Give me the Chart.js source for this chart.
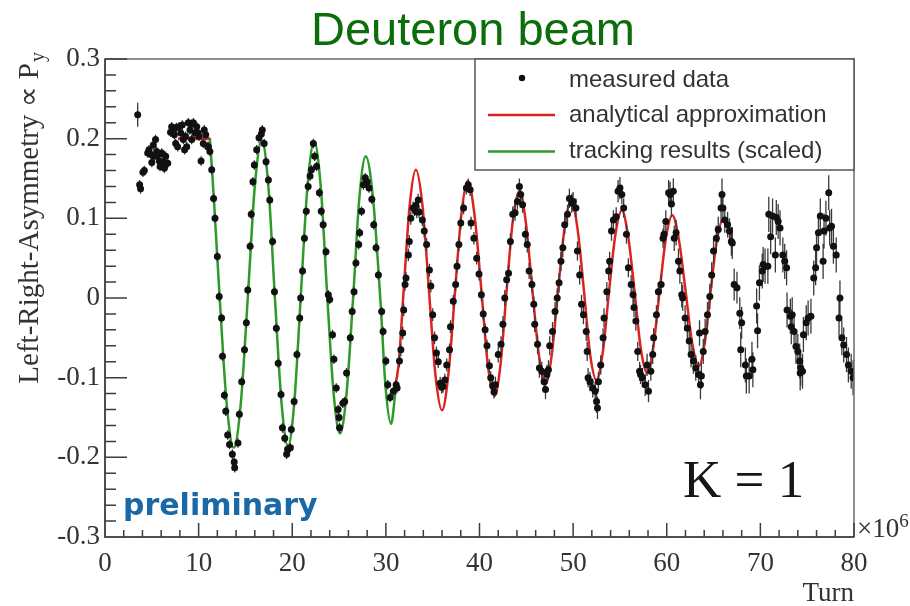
<!DOCTYPE html>
<html>
<head>
<meta charset="utf-8">
<title>Deuteron beam</title>
<script src="https://cdn.jsdelivr.net/npm/chart.js@4.4.1/dist/chart.umd.min.js"></script>
<style>
  html, body { margin: 0; padding: 0; background: #fff; }
  canvas { display: block; }
</style>
</head>
<body>
<canvas id="chart" width="910" height="606"></canvas>
<script>
// measured points: [turn (x1e6), left-right asymmetry, error]
const measured = [
  [3.49, 0.230, 0.015],
  [3.70, 0.142, 0.006], [3.80, 0.137, 0.006], [4.05, 0.158, 0.006], [4.20, 0.160, 0.006],
  [4.56, 0.182, 0.006], [4.70, 0.186, 0.006], [4.90, 0.180, 0.006], [5.00, 0.170, 0.006],
  [5.16, 0.192, 0.006], [5.27, 0.178, 0.006], [5.40, 0.199, 0.006], [5.52, 0.184, 0.006],
  [5.70, 0.180, 0.006], [5.80, 0.172, 0.006], [5.88, 0.165, 0.006], [6.05, 0.182, 0.006],
  [6.23, 0.171, 0.006], [6.34, 0.163, 0.006], [6.48, 0.178, 0.006], [6.70, 0.169, 0.006],
  [7.00, 0.208, 0.006], [7.12, 0.215, 0.006], [7.30, 0.212, 0.006], [7.41, 0.205, 0.006],
  [7.55, 0.194, 0.006], [7.62, 0.214, 0.006], [7.76, 0.190, 0.006], [7.90, 0.215, 0.006],
  [8.10, 0.207, 0.006], [8.25, 0.217, 0.006], [8.37, 0.199, 0.006], [8.50, 0.186, 0.006],
  [8.60, 0.203, 0.006], [8.73, 0.190, 0.006], [8.90, 0.220, 0.006], [9.08, 0.211, 0.006],
  [9.20, 0.218, 0.006], [9.26, 0.199, 0.006], [9.44, 0.220, 0.006], [9.60, 0.207, 0.006],
  [9.80, 0.215, 0.006], [9.95, 0.207, 0.006], [10.04, 0.203, 0.006], [10.26, 0.172, 0.006],
  [10.50, 0.194, 0.006], [10.60, 0.211, 0.006], [10.76, 0.205, 0.006], [10.97, 0.190, 0.006],
  [11.04, 0.190, 0.006], [11.20, 0.184, 0.006], [11.40, 0.161, 0.006], [11.60, 0.125, 0.006],
  [11.75, 0.100, 0.006], [12.00, 0.052, 0.006], [12.20, 0.002, 0.006], [12.45, -0.025, 0.006],
  [12.55, -0.073, 0.006], [12.75, -0.122, 0.006], [12.90, -0.142, 0.006], [13.10, -0.172, 0.006],
  [13.30, -0.184, 0.006], [13.60, -0.196, 0.006], [13.80, -0.206, 0.006], [13.85, -0.213, 0.006],
  [14.20, -0.182, 0.006], [14.35, -0.146, 0.006], [14.60, -0.105, 0.006], [14.90, -0.065, 0.006],
  [15.10, -0.031, 0.006], [15.25, 0.010, 0.006], [15.50, 0.065, 0.006], [15.62, 0.105, 0.006],
  [15.80, 0.146, 0.006], [15.95, 0.167, 0.006], [16.20, 0.186, 0.006], [16.45, 0.201, 0.006],
  [16.70, 0.206, 0.006], [16.80, 0.211, 0.006], [17.00, 0.194, 0.006], [17.20, 0.171, 0.006],
  [17.45, 0.148, 0.006], [17.60, 0.123, 0.006], [17.90, 0.071, 0.006], [18.10, 0.008, 0.006],
  [18.30, -0.038, 0.006], [18.50, -0.082, 0.006], [18.80, -0.121, 0.006], [18.95, -0.163, 0.006],
  [19.20, -0.176, 0.006], [19.40, -0.196, 0.006], [19.50, -0.190, 0.006], [19.80, -0.188, 0.006],
  [19.90, -0.165, 0.006], [20.20, -0.130, 0.006], [20.50, -0.071, 0.006], [20.80, -0.025, 0.006],
  [20.90, 0.000, 0.006], [21.10, 0.034, 0.006], [21.30, 0.075, 0.006], [21.50, 0.109, 0.006],
  [21.70, 0.140, 0.006], [21.90, 0.153, 0.006], [22.05, 0.161, 0.006], [22.25, 0.194, 0.006],
  [22.40, 0.178, 0.006], [22.60, 0.165, 0.006], [22.90, 0.132, 0.006], [23.10, 0.109, 0.006],
  [23.30, 0.092, 0.006], [23.60, 0.058, 0.006], [23.85, 0.004, 0.006], [24.00, -0.002, 0.006],
  [24.30, -0.046, 0.006], [24.45, -0.077, 0.006], [24.70, -0.113, 0.006], [24.90, -0.140, 0.006],
  [25.00, -0.150, 0.006], [25.05, -0.163, 0.006], [25.40, -0.132, 0.006], [25.60, -0.130, 0.006],
  [25.80, -0.094, 0.006], [26.20, -0.050, 0.006], [26.40, -0.017, 0.006], [26.60, 0.008, 0.006],
  [26.80, 0.044, 0.006], [27.10, 0.067, 0.006], [27.20, 0.082, 0.006], [27.40, 0.109, 0.006],
  [27.60, 0.142, 0.006], [27.80, 0.151, 0.006], [28.00, 0.146, 0.006], [28.20, 0.138, 0.006],
  [28.50, 0.124, 0.006], [28.70, 0.092, 0.006], [28.95, 0.063, 0.006], [29.20, 0.029, 0.006],
  [29.55, -0.017, 0.006], [29.70, -0.042, 0.006], [30.00, -0.079, 0.006], [30.20, -0.109, 0.006],
  [30.45, -0.125, 0.006], [30.80, -0.117, 0.006], [31.10, -0.109, 0.006], [31.20, -0.113, 0.006],
  [31.45, -0.079, 0.008], [31.60, -0.065, 0.008], [31.80, -0.044, 0.008], [31.90, -0.015, 0.008],
  [32.05, 0.017, 0.008], [32.15, 0.025, 0.008], [32.40, 0.054, 0.008], [32.50, 0.071, 0.008],
  [32.66, 0.100, 0.008], [32.90, 0.113, 0.008], [33.05, 0.111, 0.008], [33.20, 0.116, 0.008],
  [33.30, 0.108, 0.008], [33.45, 0.123, 0.008], [33.55, 0.108, 0.008], [33.90, 0.098, 0.008],
  [34.10, 0.084, 0.008], [34.35, 0.067, 0.008], [34.65, 0.035, 0.008], [34.80, 0.015, 0.008],
  [35.00, -0.021, 0.008], [35.20, -0.050, 0.008], [35.40, -0.069, 0.008], [35.60, -0.080, 0.008],
  [35.80, -0.107, 0.008], [35.95, -0.112, 0.008], [36.10, -0.111, 0.008], [36.30, -0.103, 0.008],
  [36.50, -0.084, 0.008], [36.80, -0.065, 0.008], [36.90, -0.036, 0.008], [37.20, -0.004, 0.008],
  [37.45, 0.017, 0.008], [37.60, 0.040, 0.008], [37.80, 0.067, 0.008], [38.00, 0.094, 0.008],
  [38.30, 0.113, 0.008], [38.60, 0.138, 0.008], [38.80, 0.142, 0.008], [39.00, 0.136, 0.008],
  [39.10, 0.094, 0.008], [39.40, 0.075, 0.008], [39.70, 0.050, 0.008], [39.95, 0.030, 0.008],
  [40.20, 0.004, 0.008], [40.40, -0.020, 0.008], [40.60, -0.040, 0.008], [40.80, -0.060, 0.008],
  [41.06, -0.085, 0.008], [41.20, -0.100, 0.008], [41.40, -0.110, 0.008], [41.55, -0.118, 0.008],
  [41.70, -0.109, 0.010], [42.00, -0.071, 0.010], [42.30, -0.058, 0.010], [42.50, -0.033, 0.010],
  [42.70, 0.000, 0.010], [42.90, 0.023, 0.010], [43.10, 0.031, 0.010], [43.30, 0.071, 0.010],
  [43.55, 0.105, 0.010], [43.80, 0.107, 0.010], [44.05, 0.121, 0.010], [44.26, 0.140, 0.010],
  [44.40, 0.130, 0.010], [44.60, 0.117, 0.010], [44.90, 0.080, 0.010], [45.10, 0.067, 0.010],
  [45.30, 0.034, 0.010], [45.60, 0.017, 0.010], [45.80, -0.008, 0.010], [45.90, -0.033, 0.010],
  [46.20, -0.058, 0.012], [46.40, -0.088, 0.012], [46.65, -0.092, 0.012], [46.90, -0.105, 0.012],
  [47.05, -0.115, 0.012], [47.20, -0.096, 0.012], [47.36, -0.090, 0.012], [47.50, -0.060, 0.012],
  [47.80, -0.042, 0.012], [48.07, -0.017, 0.012], [48.30, 0.000, 0.012], [48.50, 0.019, 0.012],
  [48.70, 0.046, 0.012], [48.90, 0.063, 0.012], [49.10, 0.092, 0.012], [49.40, 0.105, 0.012],
  [49.60, 0.125, 0.012], [49.85, 0.119, 0.012], [50.00, 0.121, 0.012], [50.30, 0.113, 0.012],
  [50.46, 0.059, 0.012], [50.70, 0.029, 0.012], [50.90, -0.008, 0.012], [51.10, -0.021, 0.012],
  [51.40, -0.042, 0.012], [51.50, -0.067, 0.012], [51.60, -0.100, 0.012], [51.80, -0.105, 0.012],
  [52.10, -0.113, 0.012], [52.35, -0.117, 0.012], [52.50, -0.130, 0.014], [52.60, -0.138, 0.014],
  [52.70, -0.105, 0.012], [52.95, -0.084, 0.012], [53.20, -0.050, 0.012], [53.30, -0.025, 0.012],
  [53.60, 0.008, 0.012], [53.80, 0.034, 0.012], [53.90, 0.046, 0.012], [54.10, 0.084, 0.012],
  [54.30, 0.098, 0.012], [54.60, 0.102, 0.012], [54.80, 0.134, 0.014], [55.00, 0.138, 0.014],
  [55.20, 0.130, 0.012], [55.40, 0.113, 0.012], [55.70, 0.080, 0.012], [55.90, 0.038, 0.012],
  [56.20, 0.017, 0.012], [56.40, 0.004, 0.012], [56.50, -0.012, 0.012], [56.70, -0.029, 0.012],
  [56.90, -0.067, 0.012], [57.10, -0.092, 0.012], [57.20, -0.096, 0.012], [57.40, -0.100, 0.012],
  [57.70, -0.109, 0.014], [57.90, -0.084, 0.014], [58.05, -0.117, 0.014], [58.30, -0.092, 0.012],
  [58.50, -0.071, 0.012], [58.60, -0.050, 0.012], [58.90, -0.021, 0.012], [59.10, 0.008, 0.012],
  [59.40, 0.017, 0.012], [59.60, 0.075, 0.012], [59.70, 0.080, 0.012], [59.90, 0.096, 0.014],
  [60.20, 0.132, 0.016], [60.36, 0.130, 0.016], [60.50, 0.118, 0.016], [60.70, 0.134, 0.016],
  [60.80, 0.075, 0.016], [61.00, 0.082, 0.016], [61.25, 0.046, 0.016], [61.40, 0.034, 0.016],
  [61.60, 0.004, 0.016], [61.70, 0.000, 0.016], [61.96, -0.025, 0.016], [62.20, -0.038, 0.016],
  [62.40, -0.054, 0.016], [62.60, -0.071, 0.016], [62.85, -0.079, 0.016], [63.10, -0.088, 0.016],
  [63.40, -0.096, 0.016], [63.50, -0.044, 0.016], [63.60, -0.109, 0.018], [63.70, -0.098, 0.016],
  [63.90, -0.067, 0.016], [64.10, -0.042, 0.016], [64.35, -0.021, 0.016], [64.60, 0.002, 0.016],
  [64.80, 0.029, 0.016], [65.00, 0.059, 0.016], [65.30, 0.075, 0.016], [65.50, 0.086, 0.016],
  [65.80, 0.113, 0.018], [65.90, 0.130, 0.020], [66.00, 0.113, 0.016], [66.20, 0.098, 0.016],
  [66.50, 0.092, 0.016], [66.70, 0.084, 0.016], [66.90, 0.071, 0.018],
  [67.00, 0.069, 0.020], [67.20, 0.017, 0.020], [67.50, 0.013, 0.020], [67.80, -0.019, 0.020],
  [67.90, -0.065, 0.022], [68.00, -0.031, 0.020], [68.40, -0.084, 0.022], [68.50, -0.098, 0.022],
  [68.80, -0.098, 0.022], [69.10, -0.077, 0.022], [69.20, -0.090, 0.022], [69.60, -0.010, 0.022],
  [69.70, -0.041, 0.022], [69.90, 0.019, 0.022], [70.20, 0.034, 0.022], [70.30, 0.042, 0.022],
  [70.50, 0.040, 0.022], [70.80, 0.040, 0.022], [70.90, 0.105, 0.022], [71.10, 0.077, 0.022],
  [71.30, 0.103, 0.022], [71.60, 0.054, 0.022], [71.70, 0.101, 0.022], [71.90, 0.096, 0.022],
  [72.10, 0.088, 0.022], [72.40, 0.054, 0.022], [72.60, 0.046, 0.022], [72.80, 0.038, 0.022],
  [72.85, -0.015, 0.022], [73.20, -0.023, 0.022], [73.30, -0.036, 0.022], [73.40, -0.021, 0.022],
  [73.60, -0.042, 0.022], [73.80, -0.061, 0.022], [74.00, -0.067, 0.022], [74.20, -0.079, 0.022],
  [74.25, -0.094, 0.022], [74.30, -0.088, 0.022], [74.50, -0.092, 0.022], [74.60, -0.046, 0.022],
  [74.90, -0.031, 0.022], [75.10, -0.025, 0.022], [75.40, -0.023, 0.022], [75.70, 0.025, 0.022],
  [75.90, 0.038, 0.022], [76.00, 0.063, 0.022], [76.20, 0.082, 0.022], [76.40, 0.103, 0.022],
  [76.70, 0.046, 0.022], [76.80, 0.084, 0.022], [77.00, 0.100, 0.022], [77.30, 0.132, 0.022],
  [77.40, 0.088, 0.022], [77.60, 0.090, 0.022], [77.80, 0.065, 0.022], [78.10, 0.054, 0.022],
  [78.40, -0.025, 0.022], [78.50, 0.000, 0.022], [78.70, -0.050, 0.022], [78.90, -0.059, 0.022],
  [79.20, -0.071, 0.022], [79.40, -0.084, 0.022], [79.70, -0.092, 0.022], [79.90, -0.100, 0.022]
];

// analytical approximation (red): flat start piece and the oscillation
const analyticalFlat = [[7.8, 0.2], [11.2, 0.2]];
const analytical = [
  [30.8, -0.119], [31.35, -0.085], [31.9, 0.01], [32.55, 0.117], [33.2, 0.161],
  [33.9, 0.117], [34.6, 0.01], [35.3, -0.097], [36.0, -0.141], [36.7, -0.093],
  [37.4, 0.01], [38.07, 0.106], [38.75, 0.147], [39.47, 0.104], [40.2, 0.01],
  [40.9, -0.085], [41.6, -0.123], [42.25, -0.083], [42.9, 0.01], [43.57, 0.098],
  [44.25, 0.134], [44.95, 0.095], [45.65, 0.01], [46.35, -0.072], [47.05, -0.108],
  [47.72, -0.071], [48.4, 0.01], [49.1, 0.089], [49.8, 0.122], [50.47, 0.087],
  [51.15, 0.01], [51.82, -0.071], [52.5, -0.103], [53.17, -0.068], [53.85, 0.01],
  [54.52, 0.08], [55.2, 0.11], [55.87, 0.078], [56.55, 0.01], [57.22, -0.063],
  [57.9, -0.094], [58.57, -0.061], [59.25, 0.01], [59.92, 0.076], [60.6, 0.104],
  [61.3, 0.073], [62.0, 0.01], [62.72, -0.057], [63.45, -0.085], [64.07, -0.055],
  [64.7, 0.01], [65.35, 0.072], [66.0, 0.098], [66.45, 0.09], [66.95, 0.074]
];

// tracking results, scaled (green)
const tracking = [
  [11.2, 0.201], [11.6, 0.13], [12.25, 0.0], [13.0, -0.133], [13.75, -0.188],
  [14.5, -0.133], [15.25, 0.0], [16.0, 0.14], [16.75, 0.198], [17.45, 0.14],
  [18.15, 0.0], [18.85, -0.131], [19.55, -0.186], [20.22, -0.131], [20.9, 0.0],
  [21.62, 0.139], [22.35, 0.196], [23.05, 0.139], [23.75, 0.0], [24.42, -0.12],
  [25.1, -0.170], [25.8, -0.12], [26.5, 0.0], [27.17, 0.126], [27.85, 0.178],
  [28.62, 0.126], [29.4, 0.0], [29.97, -0.112], [30.55, -0.158], [31.05, -0.115]
];

const xRange = [0, 80], xStep = 10, xMinor = 2;
const yRange = [-0.3, 0.3], yStep = 0.1, yMinor = 0.02;
const legendLabels = ['measured data', 'analytical approximation', 'tracking results (scaled)'];

const RED = '#da2420';
const GREEN = '#2e9a2a';
const SERIF = "'Liberation Serif', 'Times New Roman', serif";
const SANS = "'Liberation Sans', Arial, sans-serif";

const toXY = p => ({ x: p[0], y: p[1] });

// vertical error bars for the measured points, under the dots
const errorBars = {
  id: 'errorBars',
  beforeDatasetDraw(chart, args) {
    if (args.index !== 0) return;
    const { ctx, chartArea: a, scales: { x, y } } = chart;
    ctx.save();
    ctx.beginPath();
    ctx.rect(a.left, a.top, a.width, a.height);
    ctx.clip();
    ctx.strokeStyle = '#3a3a3a';
    ctx.lineWidth = 1.3;
    ctx.beginPath();
    measured.forEach(([mx, my, err]) => {
      const px = x.getPixelForValue(mx);
      ctx.moveTo(px, y.getPixelForValue(my - err));
      ctx.lineTo(px, y.getPixelForValue(my + err));
    });
    ctx.stroke();
    ctx.restore();
  }
};

// ROOT style frame with inward ticks
const frame = {
  id: 'frame',
  afterDatasetsDraw(chart) {
    const { ctx, chartArea: a, scales: { x, y } } = chart;
    ctx.save();
    ctx.strokeStyle = '#6a6a6a';
    ctx.lineWidth = 1.5;
    ctx.strokeRect(a.left, a.top, a.width, a.height);
    ctx.strokeStyle = '#3c3c3c';
    ctx.beginPath();
    ctx.moveTo(a.left, a.top); ctx.lineTo(a.left, a.bottom); ctx.lineTo(a.right, a.bottom);
    const nx = Math.round((xRange[1] - xRange[0]) / xMinor);
    for (let i = 0; i <= nx; i++) {
      const v = xRange[0] + i * xMinor;
      const px = x.getPixelForValue(v);
      const major = Math.abs(v / xStep - Math.round(v / xStep)) < 1e-6;
      ctx.moveTo(px, a.bottom);
      ctx.lineTo(px, a.bottom - (major ? 14 : 7));
    }
    const ny = Math.round((yRange[1] - yRange[0]) / yMinor);
    for (let i = 0; i <= ny; i++) {
      const v = yRange[0] + i * yMinor;
      const py = y.getPixelForValue(v);
      const major = Math.abs(v / yStep - Math.round(v / yStep)) < 1e-6;
      ctx.moveTo(a.left, py);
      ctx.lineTo(a.left + (major ? 22 : 11), py);
    }
    ctx.stroke();
    ctx.restore();
  }
};

// title, legend box, axis titles and labels
const annotations = {
  id: 'annotations',
  afterDraw(chart) {
    const { ctx, chartArea: a } = chart;
    const ds = chart.data.datasets;
    ctx.save();

    ctx.fillStyle = '#0b6e0b';
    ctx.font = '47px ' + SANS;
    ctx.textAlign = 'center';
    ctx.textBaseline = 'alphabetic';
    ctx.fillText('Deuteron beam', 473, 45);

    // legend
    const lx = 475, ly = a.top, lw = a.right - 475, lh = 111;
    ctx.fillStyle = '#fff';
    ctx.fillRect(lx, ly, lw, lh);
    ctx.strokeStyle = '#555';
    ctx.lineWidth = 1.5;
    ctx.strokeRect(lx, ly, lw, lh);
    ctx.fillStyle = ds[0].backgroundColor;
    ctx.beginPath();
    ctx.arc(522, 78, 3.2, 0, Math.PI * 2);
    ctx.fill();
    ctx.lineWidth = 2.5;
    ctx.strokeStyle = ds[2].borderColor;
    ctx.beginPath(); ctx.moveTo(488, 115); ctx.lineTo(555, 115); ctx.stroke();
    ctx.strokeStyle = ds[3].borderColor;
    ctx.beginPath(); ctx.moveTo(488, 151.5); ctx.lineTo(555, 151.5); ctx.stroke();
    ctx.fillStyle = '#333';
    ctx.font = '24px ' + SANS;
    ctx.textAlign = 'left';
    ctx.fillText(legendLabels[0], 569, 87);
    ctx.fillText(legendLabels[1], 569, 122);
    ctx.fillText(legendLabels[2], 569, 158);

    // y axis title, rotated, with subscript
    ctx.fillStyle = '#333';
    ctx.font = '29px ' + SERIF;
    const main = 'Left-Right-Asymmetry \u221D P';
    const wMain = ctx.measureText(main).width;
    ctx.font = '20px ' + SERIF;
    const wSub = ctx.measureText('y').width;
    ctx.translate(38, 53 + wMain + wSub);
    ctx.rotate(-Math.PI / 2);
    ctx.font = '29px ' + SERIF;
    ctx.fillText(main, 0, 0);
    ctx.font = '20px ' + SERIF;
    ctx.fillText('y', wMain + 1, 6);
    ctx.setTransform(1, 0, 0, 1, 0, 0);

    // x axis title and exponent
    ctx.font = '27px ' + SERIF;
    ctx.textAlign = 'right';
    ctx.fillText('Turn', a.right, 601);
    ctx.textAlign = 'left';
    ctx.fillText('\u00D710', a.right + 3, 537);
    const w10 = ctx.measureText('\u00D710').width;
    ctx.font = '19px ' + SERIF;
    ctx.fillText('6', a.right + 3 + w10, 527);

    ctx.fillStyle = '#1a68a6';
    ctx.font = 'bold 30px "DejaVu Sans", sans-serif';
    ctx.fillText('preliminary', 123, 515);

    ctx.fillStyle = '#161616';
    ctx.font = '53px ' + SERIF;
    ctx.fillText('K = 1', 683, 497);
    ctx.restore();
  }
};

new Chart(document.getElementById('chart'), {
  type: 'scatter',
  data: {
    datasets: [
      {
        label: legendLabels[0],
        data: measured.map(toXY),
        backgroundColor: '#111',
        borderWidth: 0,
        pointRadius: 3.5,
        order: 0
      },
      {
        label: legendLabels[1] + ' (start)',
        data: analyticalFlat.map(toXY),
        showLine: true,
        borderColor: RED,
        borderWidth: 3,
        pointRadius: 0,
        order: 1
      },
      {
        label: legendLabels[1],
        data: analytical.map(toXY),
        showLine: true,
        borderColor: RED,
        borderWidth: 2.5,
        pointRadius: 0,
        cubicInterpolationMode: 'monotone',
        order: 1
      },
      {
        label: legendLabels[2],
        data: tracking.map(toXY),
        showLine: true,
        borderColor: GREEN,
        borderWidth: 2.5,
        pointRadius: 0,
        cubicInterpolationMode: 'monotone',
        order: 2
      }
    ]
  },
  options: {
    responsive: false,
    devicePixelRatio: 1,
    animation: false,
    events: [],
    layout: { padding: { top: 59, right: 56, left: 0, bottom: 0 } },
    plugins: {
      legend: { display: false },
      title: { display: false },
      tooltip: { enabled: false }
    },
    scales: {
      x: {
        type: 'linear',
        min: xRange[0],
        max: xRange[1],
        grid: { display: false },
        border: { display: false },
        afterFit: s => { s.height = 69; },
        ticks: {
          stepSize: xStep,
          autoSkip: false,
          maxRotation: 0,
          padding: 3,
          color: '#333',
          font: { family: SERIF, size: 27 }
        }
      },
      y: {
        type: 'linear',
        min: yRange[0],
        max: yRange[1],
        grid: { display: false },
        border: { display: false },
        afterFit: s => { s.width = 105; },
        ticks: {
          stepSize: yStep,
          autoSkip: false,
          padding: -3,
          color: '#333',
          font: { family: SERIF, size: 27 },
          callback: v => Math.abs(v) < 1e-9 ? '0' : v.toFixed(1)
        }
      }
    }
  },
  plugins: [errorBars, frame, annotations]
});
</script>
</body>
</html>
